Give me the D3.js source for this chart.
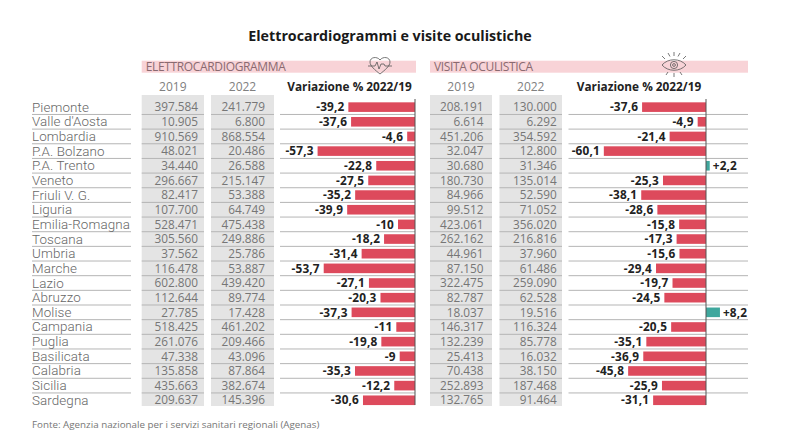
<!DOCTYPE html>
<html><head><meta charset="utf-8">
<script src="https://cdn.jsdelivr.net/npm/d3@7/dist/d3.min.js"></script>
<style>html,body{margin:0;background:#fff}svg{display:block;font-family:"Open Sans",sans-serif}</style>
</head><body><svg id="c" width="800" height="443"></svg>
<script>
const regions=["Piemonte","Valle d'Aosta","Lombardia","P.A. Bolzano","P.A. Trento","Veneto","Friuli V. G.","Liguria","Emilia-Romagna","Toscana","Umbria","Marche","Lazio","Abruzzo","Molise","Campania","Puglia","Basilicata","Calabria","Sicilia","Sardegna"];
const ecg2019=["397.584","10.905","910.569","48.021","34.440","296.667","82.417","107.700","528.471","305.560","37.562","116.478","602.800","112.644","27.785","518.425","261.076","47.338","135.858","435.663","209.637"];
const ecg2022=["241.779","6.800","868.554","20.486","26.588","215.147","53.388","64.749","475.438","249.886","25.786","53.887","439.420","89.774","17.428","461.202","209.466","43.096","87.864","382.674","145.396"];
const ecgVar=[-39.2,-37.6,-4.6,-57.3,-22.8,-27.5,-35.2,-39.9,-10,-18.2,-31.4,-53.7,-27.1,-20.3,-37.3,-11,-19.8,-9,-35.3,-12.2,-30.6];
const eye2019=["208.191","6.614","451.206","32.047","30.680","180.730","84.966","99.512","423.061","262.162","44.961","87.150","322.475","82.787","18.037","146.317","132.239","25.413","70.438","252.893","132.765"];
const eye2022=["130.000","6.292","354.592","12.800","31.346","135.014","52.590","71.052","356.020","216.816","37.960","61.486","259.090","62.528","19.516","116.324","85.778","16.032","38.150","187.468","91.464"];
const eyeVar=[-37.6,-4.9,-21.4,-60.1,2.2,-25.3,-38.1,-28.6,-15.8,-17.3,-15.6,-29.4,-19.7,-24.5,8.2,-20.5,-35.1,-36.9,-45.8,-25.9,-31.1];
const title="Elettrocardiogrammi e visite oculistiche";
const source="Fonte: Agenzia nazionale per i servizi sanitari regionali (Agenas)";
const yearLabels=["2019","2022"];
const varLabel="Variazione % 2022/19";

const svg=d3.select("#c");
const y=d3.scaleBand().domain(regions).range([99.8,407.6]).paddingInner(0).paddingOuter(0);
const fmt=v=>(v>0?"+":"-")+String(Math.abs(v)).replace(".",",");
const RED="#dd4a5c",GREEN="#3fa79d",BAND="#f8d3d7",GREY="#e4e4e4",LINE="#b5b5b5",TXT="#767676";

svg.append("text").attr("x",390).attr("y",41).attr("text-anchor","middle")
  .attr("font-size",14.25).attr("font-weight",700).attr("fill","#1a1a1a").text(title);

function panel(o){
  const g=svg.append("g");
  g.append("rect").attr("x",o.bandX0).attr("y",60.7).attr("width",o.bandX1-o.bandX0).attr("height",12).attr("fill",BAND);
  g.append("text").attr("x",o.bandX0+4).attr("y",71).attr("font-size",12).attr("fill","#8a6a70").attr("letter-spacing",-.35).text(o.name);
  o.cols.forEach((c,i)=>{
    g.append("rect").attr("x",c.x0).attr("y",95).attr("width",c.x1-c.x0).attr("height",311).attr("fill",GREY);
    g.append("text").attr("x",(c.x0+c.x1)/2).attr("y",91).attr("text-anchor","middle").attr("font-size",12).attr("fill","#808080").text(yearLabels[i]);
  });
  g.append("text").attr("x",(o.barX0+o.barX1)/2+o.headDx).attr("y",91).attr("text-anchor","middle").attr("font-size",11.8).attr("font-weight",700).attr("fill","#222").text(varLabel);
  const x=d3.scaleLinear().domain([0,10]).range([o.zero,o.zero+17]);
  const rows=g.selectAll("g.r").data(regions).join("g");
  rows.each(function(r,i){
    const s=d3.select(this),t=y(r),b=y.bandwidth(),c=t+b/2,v=o.vals[i];
    if(i<regions.length-1){
      o.segs.forEach(([a,e])=>s.append("line").attr("x1",a).attr("x2",e).attr("y1",t+b).attr("y2",t+b).attr("stroke",LINE).attr("stroke-width",1));
    }
    s.append("rect").attr("x",Math.min(x(0),x(v))).attr("width",Math.abs(x(v)-x(0))).attr("y",c-4.8).attr("height",9.6).attr("fill",v<0?RED:GREEN);
    s.append("text").attr("x",v<0?x(v)-4:x(v)+3).attr("y",c+4.2).attr("text-anchor",v<0?"end":"start")
      .attr("font-size",11.8).attr("font-weight",700).attr("letter-spacing",.15).attr("fill","#222").text(fmt(v));
    o.cols.forEach(col=>s.append("text").attr("x",col.tx).attr("y",c+4.2).attr("text-anchor","end").attr("font-size",11.8).attr("fill",TXT).text(col.vals[i]));
  });
  g.append("line").attr("x1",o.zero).attr("x2",o.zero).attr("y1",99).attr("y2",405).attr("stroke",o.axis).attr("stroke-width",1);
  return g;
}

const left=panel({name:"ELETTROCARDIOGRAMMA",bandX0:141.7,bandX1:416,barX0:282,barX1:415,headDx:1,zero:415,axis:"#555",vals:ecgVar,
  segs:[[32,131],[141.7,204],[211,274],[280,415]],
  cols:[{x0:141.7,x1:204,tx:198,vals:ecg2019},{x0:211,x1:274,tx:265,vals:ecg2022}]});
regions.forEach(r=>svg.append("text").attr("x",32).attr("y",y(r)+y.bandwidth()/2+4.5).attr("font-family","Roboto, sans-serif").attr("font-weight",300).attr("font-size",13.4).attr("letter-spacing",.1).attr("fill","#666").text(r));
const right=panel({name:"VISITA OCULISTICA",bandX0:430,bandX1:748,barX0:568,barX1:700,headDx:5,zero:706,axis:"#555",vals:eyeVar,
  segs:[[430,492],[499.5,562],[568.5,748]],
  cols:[{x0:430,x1:492,tx:483.5,vals:eye2019},{x0:499.5,x1:562,tx:556.7,vals:eye2022}]});

svg.append("text").attr("x",32).attr("y",428).attr("font-size",9.8).attr("fill",TXT).text(source);

// icons
const ic=svg.append("g").attr("fill","none").attr("stroke","#555").attr("stroke-width",.8);
ic.append("path").attr("transform","translate(380,65)").attr("d","M0,9 C-5,5 -10,1 -10,-3 C-10,-8 -3,-9 0,-5 C3,-9 10,-8 10,-3 C10,1 5,5 0,9 M-12,1 H-5 L-3,-3 L-1,4 L1,-1 H4 L5,1 H12");
ic.append("g").attr("transform","translate(674,65)").call(s=>{
  s.append("path").attr("d","M-12,0 C-6,-7 6,-7 12,0 C6,7 -6,7 -12,0 Z");
  s.append("circle").attr("r",3.6);s.append("circle").attr("r",1.4);
  s.append("path").attr("d","M0,-13 V-9 M-6,-12 L-4,-8.5 M6,-12 L4,-8.5 M-12,-9 L-9,-6 M12,-9 L9,-6 M-8,10 L-6,7 M0,12 V8 M8,10 L6,7");
});
</script></body></html>
